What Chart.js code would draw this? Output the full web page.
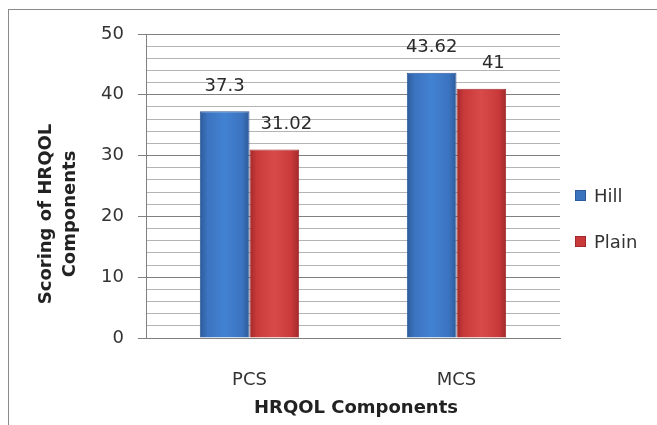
<!DOCTYPE html>
<html>
<head>
<meta charset="utf-8">
<script src="https://cdn.jsdelivr.net/npm/chart.js@4"></script>
<style>
  body { margin: 0; background: #fff; }
  #wrap { position: relative; width: 657px; height: 425px; overflow: hidden; }
  #frame { position: absolute; left: 8px; top: 9px; width: 700px; height: 500px;
           border-top: 1px solid #8a8a8a; border-left: 1px solid #8a8a8a; }
  canvas { position: absolute; left: 0; top: 0; }
  #legend { position: absolute; left: 575px; top: 185px; font: 18px "DejaVu Sans", sans-serif; color: #333; }
  .item { height: 46px; display: flex; align-items: flex-start; }
  .box { width: 9px; height: 9px; margin-top: 5px; margin-right: 8px; }
</style>
</head>
<body>
<div id="wrap">
  <div id="frame"></div>
  <canvas id="chart" width="657" height="425"></canvas>
  <div id="legend"></div>
</div>
<script>
const categories = ["PCS", "MCS"];
const seriesNames = ["Hill", "Plain"];
const hillValues = [37.3, 43.62];
const plainValues = [31.02, 41];
const yTicks = [0, 10, 20, 30, 40, 50];

const colors = ["#3b73bf", "#c9393a"];
const lights = ["#4282d2", "#d84a4a"];
const borders = ["#2d5a98", "#a02a2b"];
const font = "DejaVu Sans";
const groupPct = 0.48;

// horizontal shading on each bar, a light take on Excel's bevel look
function barFill(i) {
  return (c) => {
    const chart = c.chart;
    const x = chart.scales && chart.scales.x;
    if (!x || !chart.chartArea || c.dataIndex === undefined) return colors[i];
    const w = (x.width / categories.length) * groupPct / 2;
    const left = x.getPixelForValue(c.dataIndex) - w + i * w;
    const g = chart.ctx.createLinearGradient(left, 0, left + w, 0);
    g.addColorStop(0, borders[i]);
    g.addColorStop(0.15, colors[i]);
    g.addColorStop(0.5, lights[i]);
    g.addColorStop(0.85, colors[i]);
    g.addColorStop(1, borders[i]);
    return g;
  };
}

// value labels above each bar (Plain labels sit a bit to the right, as in Excel)
const barLabels = {
  id: "barLabels",
  afterDatasetsDraw(chart) {
    const { ctx } = chart;
    ctx.save();
    ctx.font = "18px " + font;
    ctx.fillStyle = "#2a2a2a";
    ctx.textAlign = "center";
    ctx.textBaseline = "middle";
    chart.data.datasets.forEach((dataset, i) => {
      chart.getDatasetMeta(i).data.forEach((bar, index) => {
        const shift = i === 1 ? 12 : 0;
        ctx.fillText(String(dataset.data[index]), bar.x + shift, bar.y - 25);
      });
    });
    ctx.restore();
  },
};

// axis titles drawn by hand so they sit where the original has them
const axisTitles = {
  id: "axisTitles",
  afterDraw(chart) {
    const { ctx } = chart;
    ctx.save();
    ctx.font = "bold 18px " + font;
    ctx.fillStyle = "#222";
    ctx.textAlign = "center";
    ctx.textBaseline = "middle";
    ctx.fillText("HRQOL Components", 356, 408);
    ctx.translate(0, 214);
    ctx.rotate(-Math.PI / 2);
    ctx.fillText("Scoring of HRQOL", 0, 46);
    ctx.fillText("Components", 0, 70);
    ctx.restore();
  },
};

const datasets = [hillValues, plainValues].map((values, i) => ({
  label: seriesNames[i],
  data: values,
  backgroundColor: barFill(i),
  borderColor: borders[i],
  borderWidth: 1,
  categoryPercentage: groupPct,
  barPercentage: 1,
}));

const chart = new Chart(document.getElementById("chart"), {
  type: "bar",
  data: { labels: categories, datasets },
  options: {
    responsive: false,
    animation: false,
    layout: { padding: { top: 34, right: 97, left: 0, bottom: 0 } },
    plugins: { legend: { display: false }, tooltip: { enabled: false } },
    scales: {
      x: {
        afterFit(scale) { scale.height = 87; },
        grid: { display: false },
        border: { display: true, color: "#808080" },
        ticks: { padding: 24, color: "#333", font: { family: font, size: 18 } },
      },
      y: {
        min: 0,
        max: 50,
        afterFit(scale) { scale.width = 146; },
        grid: {
          color: (c) => (yTicks.includes(c.tick.value) ? "#808080" : "#b4b4b4"),
          tickColor: (c) => (yTicks.includes(c.tick.value) ? "#808080" : "rgba(0,0,0,0)"),
          tickLength: 8,
        },
        border: { color: "#808080" },
        ticks: {
          stepSize: 2,
          autoSkip: false,
          padding: 14,
          color: "#333",
          font: { family: font, size: 18 },
          callback: (v) => (yTicks.includes(v) ? v : ""),
        },
      },
    },
  },
  plugins: [barLabels, axisTitles],
});

// legend built from the datasets
const legend = document.getElementById("legend");
chart.data.datasets.forEach((ds, i) => {
  const item = document.createElement("div");
  item.className = "item";
  const box = document.createElement("span");
  box.className = "box";
  box.style.background = colors[i];
  box.style.border = "1px solid " + borders[i];
  const text = document.createElement("span");
  text.textContent = ds.label;
  item.appendChild(box);
  item.appendChild(text);
  legend.appendChild(item);
});
</script>
</body>
</html>
